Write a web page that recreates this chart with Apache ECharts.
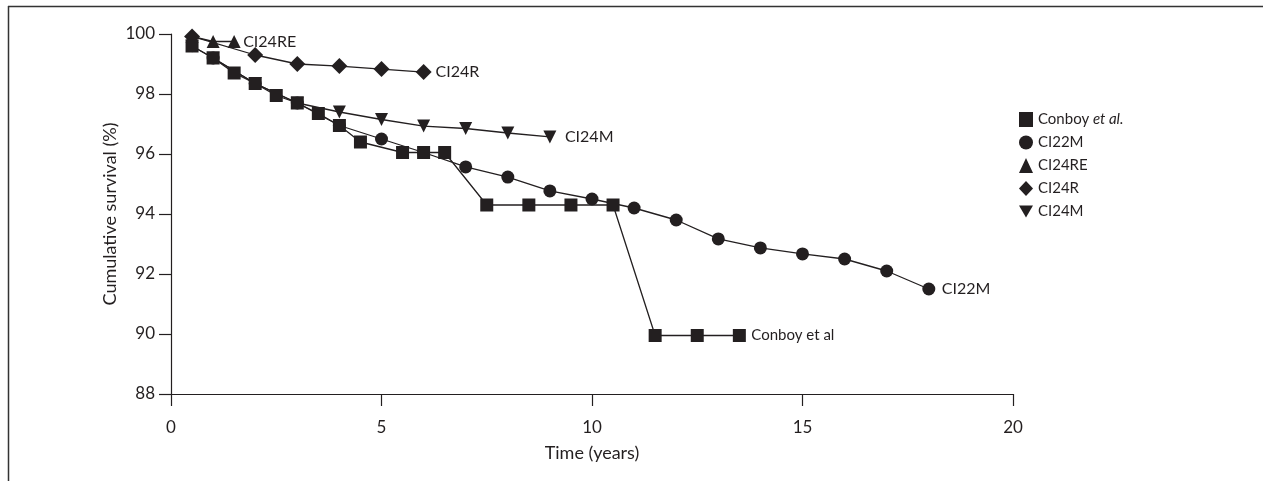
<!DOCTYPE html>
<html><head><meta charset="utf-8">
<script src="https://cdn.jsdelivr.net/npm/echarts@6/dist/echarts.min.js"></script>
<style>html,body{margin:0;padding:0;background:#fff}#c{width:1263px;height:481px}</style>
</head><body><div id="c"></div>
<script>
// ---- data ----
const xTicks = [0, 5, 10, 15, 20];
const yTicks = [88, 90, 92, 94, 96, 98, 100];

const conboyT = [0.5, 1, 1.5, 2, 2.5, 3, 3.5, 4, 4.5, 5.5, 6, 6.5, 7.5, 8.5, 9.5, 10.5, 11.5, 12.5, 13.5];
const conboyV = [99.6, 99.2, 98.7, 98.35, 97.95, 97.7, 97.35, 96.95, 96.4, 96.05, 96.05, 96.05, 94.3, 94.3, 94.3, 94.3, 89.95, 89.95, 89.95];

const ci22mT = [1, 2, 3, 4, 5, 6, 7, 8, 9, 10, 11, 12, 13, 14, 15, 16, 17, 18];
const ci22mV = [99.2, 98.35, 97.7, 96.95, 96.5, 96.05, 95.57, 95.23, 94.77, 94.5, 94.2, 93.8, 93.17, 92.87, 92.67, 92.5, 92.1, 91.5];

const ci24reT = [0.5, 1, 1.5];
const ci24reV = [99.92, 99.75, 99.75];

const ci24rT = [0.5, 2, 3, 4, 5, 6];
const ci24rV = [99.92, 99.3, 99.0, 98.93, 98.83, 98.73];

const ci24mT = [0.5, 1, 2, 3, 4, 5, 6, 7, 8, 9];
const ci24mV = [99.6, 99.2, 98.35, 97.7, 97.4, 97.15, 96.93, 96.85, 96.7, 96.57];

const seriesNames = ['Conboy et al.', 'CI22M', 'CI24RE', 'CI24R', 'CI24M'];
const endLabels = ['Conboy et al', 'CI22M', 'CI24RE', 'CI24R', 'CI24M'];

// ---- chart ----
const INK = '#231f20';
const FONT = 'Lato, "Open Sans", sans-serif';
const pair = (t, v) => t.map((x, i) => [x, v[i]]);
const invTri = 'path://M0,0 L10,0 L5,8.7 Z';
const defs = [
  { t: conboyT, v: conboyV, sym: 'rect', size: 13, lab: 15, dist: 12 },
  { t: ci22mT, v: ci22mV, sym: 'circle', size: 13, lab: 16, dist: 13 },
  { t: ci24reT, v: ci24reV, sym: 'triangle', size: 13, lab: 16, dist: 9 },
  { t: ci24rT, v: ci24rV, sym: 'diamond', size: 16, lab: 16, dist: 12 },
  { t: ci24mT, v: ci24mV, sym: invTri, size: 13, lab: 16, dist: 15 }
];
const series = defs.map((d, i) => ({
  name: seriesNames[i],
  type: 'line',
  data: pair(d.t, d.v),
  symbol: d.sym,
  symbolSize: d.size,
  showAllSymbol: true,
  lineStyle: { color: INK, width: 1.3 },
  itemStyle: { color: INK },
  animation: false,
  z: 10 - i,
  endLabel: {
    show: true, formatter: endLabels[i], color: INK, fontFamily: FONT,
    fontSize: d.lab, distance: d.dist
  }
}));

const chart = echarts.init(document.getElementById('c'), null, { renderer: 'canvas' });
chart.setOption({
  backgroundColor: '#fff',
  animation: false,
  textStyle: { fontFamily: FONT, color: INK },
  grid: { left: 171, right: 250, top: 34, bottom: 87, containLabel: false },
  xAxis: {
    type: 'value', min: xTicks[0], max: xTicks[xTicks.length - 1], interval: 5,
    name: 'Time (years)', nameLocation: 'middle', nameGap: 50, nameMoveOverlap: false,
    nameTextStyle: { fontSize: 18, color: INK, fontFamily: FONT },
    axisLine: { show: true, lineStyle: { color: INK, width: 1.2 } },
    axisTick: { show: true, length: 12, lineStyle: { color: INK, width: 1.2 } },
    axisLabel: { margin: 25, fontSize: 17, color: INK, fontFamily: FONT },
    splitLine: { show: false }
  },
  yAxis: {
    type: 'value', min: yTicks[0], max: yTicks[yTicks.length - 1], interval: 2,
    name: 'Cumulative survival (%)', nameLocation: 'middle', nameGap: 52, nameRotate: 90, nameMoveOverlap: false,
    nameTextStyle: { fontSize: 18, color: INK, fontFamily: FONT },
    axisLine: { show: true, lineStyle: { color: INK, width: 1.2 } },
    axisTick: { show: true, length: 12, lineStyle: { color: INK, width: 1.2 } },
    axisLabel: { margin: 16, fontSize: 17, color: INK, fontFamily: FONT },
    splitLine: { show: false }
  },
  legend: {
    orient: 'vertical', left: 1014, top: 107, itemGap: 8,
    itemWidth: 14, itemHeight: 15,
    data: seriesNames.map((n, i) => ({ name: n, icon: defs[i].sym })),
    textStyle: { fontSize: 15, color: INK, fontFamily: FONT,
      rich: { it: { fontStyle: 'italic', fontSize: 15, color: INK, fontFamily: FONT } } },
    formatter: n => n === 'Conboy et al.' ? 'Conboy {it|et al.}' : n,
    selectedMode: false
  },
  graphic: [
    { type: 'line', shape: { x1: 8, y1: 6.5, x2: 1263, y2: 6.5 }, style: { stroke: '#333', lineWidth: 1.5 } },
    { type: 'line', shape: { x1: 8.5, y1: 6, x2: 8.5, y2: 481 }, style: { stroke: '#333', lineWidth: 1.5 } }
  ],
  series: series
});
</script></body></html>
